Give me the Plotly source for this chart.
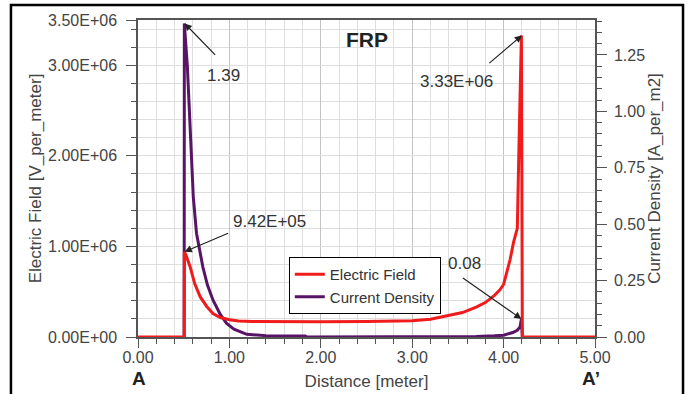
import plotly.graph_objects as go

# ---------------- data ----------------
distance_E = [0.0, 0.505, 0.507, 0.53, 0.57, 0.62, 0.68, 0.75, 0.82, 0.90, 1.0, 1.1,
              1.25, 1.5, 2.0, 2.5, 2.8, 3.0, 3.2, 3.4, 3.55, 3.7, 3.8, 3.9, 3.96, 4.0,
              4.07, 4.11, 4.15, 4.17, 4.195, 4.205, 5.0]
field_E = [0.0, 0.0, 9.42e5, 8.9e5, 7.76e5, 5.9e5, 4.45e5, 3.4e5, 2.6e5, 2.15e5, 1.9e5, 1.78e5,
           1.72e5, 1.68e5, 1.68e5, 1.70e5, 1.72e5, 1.80e5, 1.95e5, 2.35e5, 2.7e5, 3.3e5, 3.8e5,
           4.6e5, 5.2e5, 5.8e5, 8.5e5, 1.05e6, 1.2e6, 2.2e6, 3.33e6, 0.0, 0.0]

distance_J = [0.505, 0.507, 0.54, 0.587, 0.605, 0.64, 0.71, 0.76, 0.82, 0.90, 0.97, 1.05,
              1.19, 1.4, 1.83, 1.85, 3.0, 3.7, 3.9, 4.0, 4.1, 4.15, 4.18, 4.195, 4.205]
current_J = [0.0, 1.39, 1.20, 0.815, 0.62, 0.46, 0.31, 0.23, 0.164, 0.10, 0.06, 0.035,
             0.012, 0.006, 0.004, 0.0, 0.0, 0.002, 0.005, 0.008, 0.02, 0.03, 0.045, 0.08, 0.0]

x_ticks = [0, 1, 2, 3, 4, 5]
left_ticks = [0, 1e6, 2e6, 3e6, 3.5e6]
left_tick_labels = ["0.00E+00", "1.00E+06", "2.00E+06", "3.00E+06", "3.50E+06"]
right_ticks = [0, 0.25, 0.5, 0.75, 1.0, 1.25]

# ---------------- style ----------------
FONT = "Liberation Sans, Arial, sans-serif"
RED = "#f01c1c"
PURPLE = "#581466"
AX = "#555555"
TXT = "#444444"

fig = go.Figure()
fig.add_trace(go.Scatter(x=distance_J, y=current_J, name="Current Density", mode="lines",
                         yaxis="y", line=dict(color=PURPLE, width=3), legendrank=2))
fig.add_trace(go.Scatter(x=distance_E, y=field_E, name="Electric Field", mode="lines",
                         yaxis="y2", line=dict(color=RED, width=3), legendrank=1))

fig.update_layout(
    width=688, height=394,
    margin=dict(l=138, r=93, t=20, b=57, autoexpand=False),
    paper_bgcolor="white", plot_bgcolor="white",
    font=dict(family=FONT, color=TXT, size=16),
    showlegend=True,
    legend=dict(x=0.33, y=0.252, xanchor="left", yanchor="top",
                bgcolor="white", bordercolor="black", borderwidth=1,
                font=dict(size=15, color="#333333"), tracegroupgap=0),
    xaxis=dict(range=[0, 5], tickvals=x_ticks, tickformat=".2f", automargin=False,
               showline=True, linecolor=AX, linewidth=1.5, mirror=True,
               ticks="outside", ticklen=9, tickcolor=AX, ticklabelstandoff=-4,
               showgrid=True, gridcolor="#c4c4c4", gridwidth=1, zeroline=False,
               minor=dict(dtick=0.2, tick0=0, ticks="outside", ticklen=5, tickcolor=AX,
                          showgrid=True, gridcolor="#dedede", gridwidth=1),
               title=dict(text="Distance [meter]", font=dict(size=17, color=TXT), standoff=10)),
    yaxis=dict(side="right", range=[0, 1.405], tickvals=right_ticks, tickformat=".2f",
               automargin=False,
               showline=True, linecolor=AX, linewidth=1.5,
               ticks="outside", ticklen=10, tickcolor=AX, ticklabelstandoff=4,
               showgrid=False, zeroline=False,
               minor=dict(dtick=0.05, tick0=0, ticks="outside", ticklen=5, tickcolor=AX,
                          showgrid=False),
               title=dict(text="Current Density [A_per_m2]", font=dict(size=17, color=TXT),
                          standoff=0)),
    yaxis2=dict(side="left", overlaying="y", range=[0, 3.5e6], automargin=False,
                tickvals=left_ticks, ticktext=left_tick_labels,
                showline=True, linecolor=AX, linewidth=1.5,
                ticks="outside", ticklen=10, tickcolor=AX, ticklabelstandoff=6,
                showgrid=True, gridcolor="#dedede", gridwidth=1, zeroline=False,
                minor=dict(dtick=2e5, tick0=0, ticks="outside", ticklen=5, tickcolor=AX,
                           showgrid=True, gridcolor="#dedede", gridwidth=1),
                title=dict(text="Electric Field [V_per_meter]", font=dict(size=17, color=TXT),
                           standoff=2)),
)

# outer frame
fig.add_shape(type="rect", xref="paper", yref="paper", x0=-0.278, x1=1.1926,
              y0=-0.3, y1=1.0473, line=dict(color="black", width=2.5), layer="above")

ann_font = dict(family=FONT, size=17, color="#333333")
# arrows (point, tail offset in px)
arrows = [
    dict(x=0.51, y=1.39, yref="y", ax=32, ay=33),
    dict(x=0.51, y=9.42e5, yref="y2", ax=45, ay=-19),
    dict(x=4.20, y=3.33e6, yref="y2", ax=-34, ay=29),
    dict(x=4.195, y=0.08, yref="y", ax=-60, ay=-42),
]
for a in arrows:
    fig.add_annotation(x=a["x"], y=a["y"], xref="x", yref=a["yref"], text="",
                       showarrow=True, ax=a["ax"], ay=a["ay"], arrowhead=2, arrowsize=1.2,
                       arrowwidth=1.2, arrowcolor="#222222", standoff=0)
# labels
labels = [
    dict(x=0.93, y=2.89e6, text="1.39"),
    dict(x=1.44, y=1.27e6, text="9.42E+05"),
    dict(x=3.49, y=2.82e6, text="3.33E+06"),
    dict(x=3.57, y=0.817e6, text="0.08"),
]
for l in labels:
    fig.add_annotation(x=l["x"], y=l["y"], xref="x", yref="y2", text=l["text"],
                       showarrow=False, font=ann_font, xanchor="center", yanchor="middle")

fig.add_annotation(x=0.501, y=0.94, xref="paper", yref="paper", text="<b>FRP</b>",
                   showarrow=False, xanchor="center", yanchor="middle",
                   font=dict(family=FONT, size=21, color="#222222"))
fig.add_annotation(x=0.002, y=-0.131, xref="paper", yref="paper", text="<b>A</b>",
                   showarrow=False, xanchor="center", yanchor="middle",
                   font=dict(family=FONT, size=19, color="#222222"))
fig.add_annotation(x=0.991, y=-0.131, xref="paper", yref="paper", text="<b>A’</b>",
                   showarrow=False, xanchor="center", yanchor="middle",
                   font=dict(family=FONT, size=19, color="#222222"))

fig.write_html("out.html")
